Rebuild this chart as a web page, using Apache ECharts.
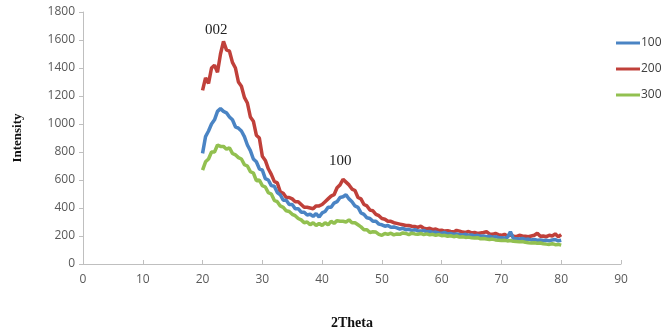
<!DOCTYPE html>
<html>
<head>
<meta charset="utf-8">
<script src="https://cdn.jsdelivr.net/npm/echarts@6/dist/echarts.min.js"></script>
<style>
  html, body { margin: 0; padding: 0; background: #fff; }
  #chart { width: 672px; height: 335px; }
</style>
</head>
<body>
<div id="chart"></div>
<script>
// 2Theta sampling (degrees)
const twoTheta = [
  20, 20.5, 21, 21.5, 22, 22.5, 23, 23.5, 24, 24.5, 25, 25.5, 26, 26.5, 27, 27.5, 28, 28.5, 29, 29.5,
  30, 30.5, 31, 31.5, 32, 32.5, 33, 33.5, 34, 34.5, 35, 35.5, 36, 36.5, 37, 37.5, 38, 38.5, 39, 39.5,
  40, 40.5, 41, 41.5, 42, 42.5, 43, 43.5, 44, 44.5, 45, 45.5, 46, 46.5, 47, 47.5, 48, 48.5, 49, 49.5,
  50, 50.5, 51, 51.5, 52, 52.5, 53, 53.5, 54, 54.5, 55, 55.5, 56, 56.5, 57, 57.5, 58, 58.5, 59, 59.5,
  60, 60.5, 61, 61.5, 62, 62.5, 63, 63.5, 64, 64.5, 65, 65.5, 66, 66.5, 67, 67.5, 68, 68.5, 69, 69.5,
  70, 70.5, 71, 71.5, 72, 72.5, 73, 73.5, 74, 74.5, 75, 75.5, 76, 76.5, 77, 77.5, 78, 78.5, 79, 79.5,
  80
];

const s100 = [
  790, 910, 950, 1000, 1030, 1090, 1110, 1090, 1080, 1050, 1030, 980, 970, 950, 910, 850, 810, 750, 730, 680,
  670, 610, 600, 560, 555, 510, 495, 455, 455, 425, 425, 395, 395, 370, 370, 350, 355, 340, 360, 335,
  365, 375, 405, 405, 435, 445, 475, 480, 495, 465, 445, 415, 405, 365, 355, 330, 325, 305, 305, 285,
  280, 270, 275, 262, 265, 258, 250, 255, 245, 248, 240, 245, 238, 235, 240, 230, 232, 225, 228, 222,
  220, 225, 215, 218, 212, 215, 210, 208, 212, 205, 208, 200, 205, 198, 200, 195, 198, 192, 195, 190,
  188, 185, 190, 230, 182, 180, 178, 182, 175, 178, 172, 175, 170, 172, 168, 170, 165, 172, 175, 165,
  170
];

const s200 = [
  1240, 1330, 1290, 1400, 1420, 1370, 1500, 1590, 1530, 1520, 1440, 1400, 1300, 1270, 1190, 1150, 1050, 1020, 920, 900,
  770, 740, 680, 640, 590, 580, 515, 505, 475, 475, 465, 445, 445, 425, 405, 405, 400, 395, 415, 415,
  425, 445, 465, 485, 495, 545, 565, 605, 585, 565, 535, 525, 475, 465, 425, 415, 385, 380, 355, 345,
  325, 320, 305, 305, 295, 290, 285, 280, 275, 275, 270, 268, 262, 270, 255, 250, 255, 245, 250, 240,
  242, 235, 238, 232, 228, 240, 235, 228, 225, 232, 222, 225, 218, 222, 225, 230, 215, 212, 218, 210,
  205, 212, 200, 208, 198, 195, 205, 200, 198, 195, 200, 205, 220, 198, 200, 195, 205, 200, 215, 195,
  210
];

const s300 = [
  670, 730, 750, 800, 800, 850, 840, 840, 820, 830, 790, 780, 760, 750, 710, 700, 660, 650, 595, 600,
  560, 550, 510, 500, 455, 445, 415, 405, 380, 375, 355, 345, 325, 315, 295, 300, 280, 295, 275, 290,
  275, 295, 280, 305, 290, 310, 305, 305, 300, 315, 295, 295, 280, 265, 245, 245, 225, 230, 228, 212,
  205, 218, 212, 220, 208, 215, 212, 222, 218, 210, 220, 215, 212, 218, 210, 215, 208, 212, 205, 210,
  202, 205, 198, 202, 195, 200, 192, 195, 190, 192, 188, 185, 188, 180, 182, 178, 175, 178, 172, 170,
  168, 170, 165, 168, 162, 160, 158, 160, 155, 152, 150, 152, 148, 150, 145, 142, 140, 145, 138, 140,
  135
];

const seriesNames = ['100', '200', '300'];
const seriesColors = ['#4a84c4', '#c0403a', '#92c050'];
const peakLabels = ['002', '100'];

function pairs(vals) {
  return twoTheta.map((t, i) => [t, vals[i]]);
}

const chart = echarts.init(document.getElementById('chart'));

const axisFont = { fontFamily: 'Open Sans, Noto Sans, sans-serif', fontSize: 12, color: '#595959' };

const option = {
  animation: false,
  grid: { left: 83, right: 51, top: 12, bottom: 68 },
  legend: {
    orient: 'vertical',
    left: 611,
    top: 32,
    icon: 'rect',
    itemWidth: 24,
    itemHeight: 3,
    itemGap: 14,
    textStyle: { fontFamily: 'Open Sans, Noto Sans, sans-serif', fontSize: 12, color: '#404040', padding: [0, 0, 0, -4] },
    data: seriesNames
  },
  xAxis: {
    type: 'value',
    min: 0,
    max: 90,
    interval: 10,
    name: '2Theta',
    nameLocation: 'middle',
    nameGap: 52,
    nameTextStyle: { fontFamily: 'Liberation Serif, serif', fontWeight: 'bold', fontSize: 14, color: '#111' },
    axisLine: { lineStyle: { color: '#bfbfbf', width: 1 } },
    axisTick: { show: true, inside: true, length: 4, lineStyle: { color: '#bfbfbf' } },
    axisLabel: Object.assign({ margin: 10 }, axisFont),
    splitLine: { show: false }
  },
  yAxis: {
    type: 'value',
    min: 0,
    max: 1800,
    interval: 200,
    name: 'Intensity',
    nameLocation: 'middle',
    nameGap: 59,
    nameTextStyle: { fontFamily: 'Liberation Serif, serif', fontWeight: 'bold', fontSize: 13, color: '#111' },
    axisLine: { show: true, lineStyle: { color: '#bfbfbf', width: 1 } },
    axisTick: { show: true, length: 4, lineStyle: { color: '#bfbfbf' } },
    axisLabel: Object.assign({ margin: 8, formatter: (v) => String(v) }, axisFont),
    splitLine: { show: false }
  },
  series: [s100, s200, s300].map((vals, i) => ({
    name: seriesNames[i],
    type: 'line',
    data: pairs(vals),
    symbol: 'none',
    lineStyle: { color: seriesColors[i], width: 3.5 },
    itemStyle: { color: seriesColors[i] },
    z: i === 2 ? 3 : (i === 0 ? 2 : 1)
  })),
  graphic: [
    { type: 'text', left: 205, top: 23, style: { text: peakLabels[0], font: '15px "Liberation Serif", serif', fill: '#222' } },
    { type: 'text', left: 329, top: 154, style: { text: peakLabels[1], font: '15px "Liberation Serif", serif', fill: '#222' } }
  ]
};

chart.setOption(option);
</script>
</body>
</html>
